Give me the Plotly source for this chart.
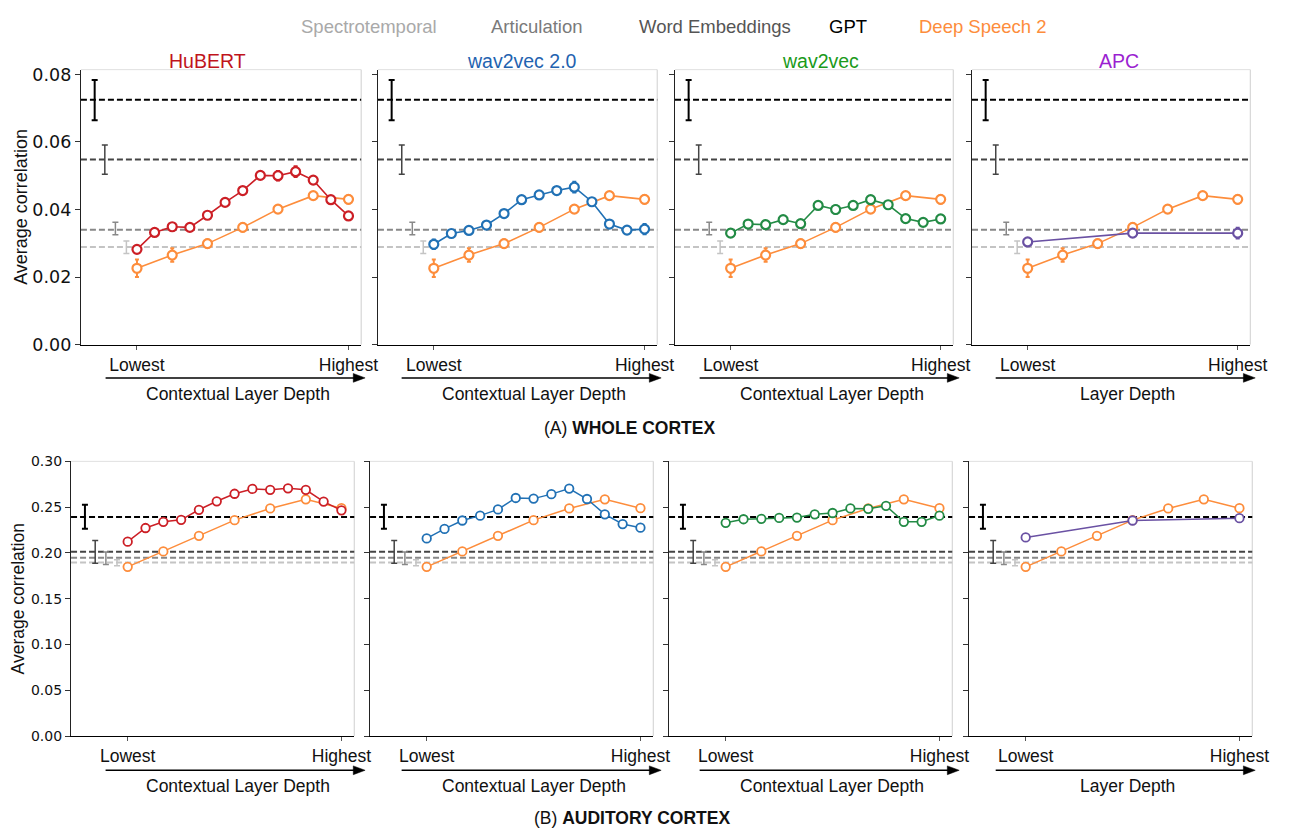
import plotly.graph_objects as go

W, H = 1289, 839

# ---------------- data ----------------
models = ["HuBERT", "wav2vec 2.0", "wav2vec", "APC"]
xaxis_titles = ["Contextual Layer Depth", "Contextual Layer Depth", "Contextual Layer Depth", "Layer Depth"]
tick_text = ["Lowest", "Highest"]

# relative layer depth (0 = lowest, 1 = highest)
depth_13 = [0, 1/12, 2/12, 3/12, 4/12, 5/12, 6/12, 7/12, 8/12, 9/12, 10/12, 11/12, 1]
depth_7 = [0, 1/6, 2/6, 3/6, 4/6, 5/6, 1]
depth_3 = [0, 0.5, 1]

# (A) whole cortex  -- baselines: GPT, Word Embeddings, Articulation, Spectrotemporal
whole_baseline = [0.0725, 0.0548, 0.0340, 0.0289]
whole_baseline_err_up = [0.0058, 0.0043, 0.0022, 0.0018]
whole_baseline_err_dn = [0.0061, 0.0044, 0.0015, 0.0019]
whole_hubert = [0.0282, 0.0332, 0.0349, 0.0347, 0.0383, 0.0421, 0.0456, 0.0501, 0.0500, 0.0512, 0.0487, 0.0429, 0.0381]
whole_hubert_err = [0.0008, 0.0008, 0.0008, 0.0008, 0.0006, 0.0006, 0.0006, 0.0006, 0.0014, 0.0016, 0.0008, 0.0006, 0.0008]
whole_w2v2 = [0.0297, 0.0329, 0.0338, 0.0354, 0.0388, 0.0429, 0.0443, 0.0456, 0.0466, 0.0423, 0.0357, 0.0339, 0.0342]
whole_w2v2_err = [0.0014, 0.0008, 0.0008, 0.0006, 0.0006, 0.0008, 0.0008, 0.0010, 0.0016, 0.0006, 0.0008, 0.0006, 0.0015]
whole_w2v = [0.0330, 0.0357, 0.0355, 0.0370, 0.0358, 0.0412, 0.0400, 0.0412, 0.0429, 0.0414, 0.0373, 0.0362, 0.0372]
whole_w2v_err = [0.0006, 0.0006, 0.0006, 0.0006, 0.0006, 0.0010, 0.0012, 0.0010, 0.0010, 0.0008, 0.0008, 0.0008, 0.0008]
whole_apc = [0.0304, 0.0330, 0.0330]
whole_apc_err = [0.0012, 0.0008, 0.0016]
whole_ds2 = [0.0226, 0.0265, 0.0299, 0.0347, 0.0401, 0.0441, 0.0430]
whole_ds2_err = [0.0026, 0.0020, 0.0012, 0.0012, 0.0010, 0.0010, 0.0012]

# (B) auditory cortex
aud_baseline = [0.2393, 0.2012, 0.1948, 0.1895]
aud_baseline_err_up = [0.0132, 0.0125, 0.0061, 0.0031]
aud_baseline_err_dn = [0.0128, 0.0124, 0.0075, 0.0036]
aud_hubert = [0.2123, 0.2272, 0.2340, 0.2361, 0.2471, 0.2564, 0.2646, 0.2699, 0.2689, 0.2706, 0.2689, 0.2561, 0.2465]
aud_w2v2 = [0.2158, 0.2262, 0.2354, 0.2407, 0.2475, 0.2600, 0.2593, 0.2642, 0.2703, 0.2589, 0.2422, 0.2315, 0.2276]
aud_w2v = [0.2329, 0.2368, 0.2372, 0.2382, 0.2386, 0.2422, 0.2436, 0.2486, 0.2482, 0.2514, 0.2340, 0.2340, 0.2407]
aud_apc = [0.2169, 0.2354, 0.2379]
aud_ds2 = [0.1848, 0.2016, 0.2187, 0.2358, 0.2486, 0.2585, 0.2489]
aud_err_small = 0.0012

# ---------------- styles ----------------
model_line_colors = ["#cc1f26", "#2171b5", "#238b45", "#6a51a3"]
title_colors = ["#c0141c", "#1f63b0", "#1a9a1a", "#9b1fd1"]
ds2_color = "#fd8d3c"
baseline_colors = ["#000000", "#444444", "#888888", "#c4c4c4"]
baseline_err_widths = [2, 1.5, 1.5, 1.5]
baseline_x = [-0.20, -0.152, -0.102, -0.05]
legend_colors = ["#a9a9a9", "#7a7a7a", "#555555", "#000000", ds2_color]
legend_labels = ["Spectrotemporal", "Articulation", "Word Embeddings", "GPT", "Deep Speech 2"]
legend_cx = [374, 544.5, 724.5, 859.5, 996.5]

SANS = "Liberation Sans, Arial, sans-serif"
DEJAVU = "DejaVu Sans, sans-serif"

top_dom_x = [(82, 366), (383, 666), (684, 966), (985, 1267)]
bot_dom_x = [(72, 359), (375, 662), (678, 965), (982, 1269)]
top_dom_y = (63, 344)
bot_dom_y = (463.3, 744)
lowest_px = [139, 439, 741, 1041]
XR = [-0.265, 1.06]


def px(x):
    return x / W


def py(y):
    return 1 - y / H


fig = go.Figure()
layout = {}
shapes = []
annotations = []

rows = [
    dict(dom_x=top_dom_x, dom_y=top_dom_y, yr=[0, 0.0814], ytv=[0, 0.02, 0.04, 0.06, 0.08],
         yfont=17.5, base=whole_baseline, bup=whole_baseline_err_up, bdn=whole_baseline_err_dn,
         models=[(whole_hubert, whole_hubert_err, depth_13), (whole_w2v2, whole_w2v2_err, depth_13),
                 (whole_w2v, whole_w2v_err, depth_13), (whole_apc, whole_apc_err, depth_3)],
         ds2=(whole_ds2, whole_ds2_err), msize=9, mlw=2.2, lw=1.6, ylab_x=21, ylab_font=18),
    dict(dom_x=bot_dom_x, dom_y=bot_dom_y, yr=[0, 0.30], ytv=[0, 0.05, 0.10, 0.15, 0.20, 0.25, 0.30],
         yfont=14, base=aud_baseline, bup=aud_baseline_err_up, bdn=aud_baseline_err_dn,
         models=[(aud_hubert, [aud_err_small] * len(aud_hubert), depth_13),
                 (aud_w2v2, [aud_err_small] * len(aud_w2v2), depth_13),
                 (aud_w2v, [aud_err_small] * len(aud_w2v), depth_13),
                 (aud_apc, [aud_err_small] * len(aud_apc), depth_3)],
         ds2=(aud_ds2, [aud_err_small] * len(aud_ds2)), msize=8.5, mlw=1.8, lw=1.5, ylab_x=18, ylab_font=17.5),
]

n = 0
for r, row in enumerate(rows):
    for p in range(4):
        n += 1
        xs = "" if n == 1 else str(n)
        xl, xr = row["dom_x"][p]
        yt, yb = row["dom_y"]
        layout["xaxis" + xs] = dict(
            domain=[px(xl), px(xr)], anchor="y" + xs, range=XR,
            tickvals=[0, 1], ticktext=tick_text, ticks="outside", ticklen=4, tickcolor="#555555",
            tickfont=dict(family=SANS, size=17.5, color="#111111"),
            showline=True, linecolor="#000000", linewidth=1.3, showgrid=False, zeroline=False,
            fixedrange=True)
        layout["yaxis" + xs] = dict(
            domain=[py(yb), py(yt)], anchor="x" + xs, range=row["yr"],
            tickvals=row["ytv"], tickformat=".2f", ticks="outside", ticklen=5, tickcolor="#333333",
            showticklabels=(p == 0), tickfont=dict(family=DEJAVU, size=row["yfont"], color="#111111"),
            showline=True, linecolor="#222222", linewidth=1.3, showgrid=False, zeroline=False,
            fixedrange=True)
        # light frame on top / right
        shapes.append(dict(type="line", xref="x" + xs + " domain", yref="y" + xs + " domain",
                           x0=0, x1=1, y0=1, y1=1, line=dict(color="#e0e0e0", width=1), layer="below"))
        shapes.append(dict(type="line", xref="x" + xs + " domain", yref="y" + xs + " domain",
                           x0=1, x1=1, y0=0, y1=1, line=dict(color="#cfcfcf", width=1), layer="below"))
        # baselines: dashed reference lines + error bars
        for b in range(4):
            shapes.append(dict(type="line", xref="x" + xs + " domain", yref="y" + xs,
                               x0=0, x1=1, y0=row["base"][b], y1=row["base"][b],
                               line=dict(color=baseline_colors[b], width=2, dash="6px,3px"),
                               layer="below"))
            fig.add_trace(go.Scatter(
                x=[baseline_x[b]], y=[row["base"][b]], mode="markers",
                marker=dict(size=1, color="rgba(0,0,0,0)"),
                error_y=dict(type="data", symmetric=False, array=[row["bup"][b]],
                             arrayminus=[row["bdn"][b]], color=baseline_colors[b],
                             thickness=baseline_err_widths[b], width=3),
                xaxis="x" + xs, yaxis="y" + xs, showlegend=False, hoverinfo="skip"))
        # Deep Speech 2
        ds_vals, ds_err = row["ds2"]
        fig.add_trace(go.Scatter(
            x=depth_7, y=ds_vals, mode="lines+markers",
            line=dict(color=ds2_color, width=row["lw"]),
            marker=dict(symbol="circle", size=row["msize"], color="white",
                        line=dict(color=ds2_color, width=row["mlw"])),
            error_y=dict(type="data", array=ds_err, color=ds2_color, thickness=2, width=2),
            xaxis="x" + xs, yaxis="y" + xs, showlegend=False, name="Deep Speech 2"))
        # model
        mv, me, mx = row["models"][p]
        fig.add_trace(go.Scatter(
            x=mx, y=mv, mode="lines+markers",
            line=dict(color=model_line_colors[p], width=row["lw"]),
            marker=dict(symbol="circle", size=row["msize"], color="white",
                        line=dict(color=model_line_colors[p], width=row["mlw"])),
            error_y=dict(type="data", array=me, color=model_line_colors[p], thickness=2, width=2),
            xaxis="x" + xs, yaxis="y" + xs, showlegend=False, name=models[p]))

        # depth arrow + axis caption
        ay = 378 if r == 0 else 779
        ty = 394.7 if r == 0 else 794.7
        a0 = lowest_px[p] - 32
        a1 = lowest_px[p] + 231
        shapes.append(dict(type="line", xref="paper", yref="paper", x0=px(a0), x1=px(a1 - 10),
                           y0=py(ay), y1=py(ay), line=dict(color="#000000", width=1.5)))
        shapes.append(dict(type="path", xref="paper", yref="paper",
                           path=f"M {px(a1 - 12)} {py(ay - 4.5)} L {px(a1)} {py(ay)} L {px(a1 - 12)} {py(ay + 4.5)} Z",
                           fillcolor="#000000", line=dict(color="#000000", width=0.5)))
        annotations.append(dict(x=px(lowest_px[p] + 102), y=py(ty), xref="paper", yref="paper",
                                text=xaxis_titles[p], showarrow=False, xanchor="center", yanchor="middle",
                                font=dict(family=SANS, size=17.5, color="#111111")))

    yt, yb = row["dom_y"]
    annotations.append(dict(x=px(row["ylab_x"]), y=py((yt + yb) / 2), xref="paper", yref="paper",
                            text="Average correlation", textangle=-90, showarrow=False,
                            xanchor="center", yanchor="middle",
                            font=dict(family=SANS, size=row["ylab_font"], color="#111111")))

# panel titles
title_cx = [210, 529, 831.5, 1134]
for p in range(4):
    annotations.append(dict(x=px(title_cx[p]), y=py(54), xref="paper", yref="paper", text=models[p],
                            showarrow=False, xanchor="center", yanchor="middle",
                            font=dict(family=SANS, size=19.5, color=title_colors[p])))

# text legend
for i, lab in enumerate(legend_labels):
    annotations.append(dict(x=px(legend_cx[i]), y=py(19), xref="paper", yref="paper", text=lab,
                            showarrow=False, xanchor="center", yanchor="middle",
                            font=dict(family=SANS, size=18.5, color=legend_colors[i])))

# section labels
annotations.append(dict(x=px(638), y=py(429), xref="paper", yref="paper",
                        text="(A) <b>WHOLE CORTEX</b>", showarrow=False, xanchor="center", yanchor="middle",
                        font=dict(family=SANS, size=17.5, color="#111111")))
annotations.append(dict(x=px(640), y=py(828), xref="paper", yref="paper",
                        text="(B) <b>AUDITORY CORTEX</b>", showarrow=False, xanchor="center", yanchor="middle",
                        font=dict(family=SANS, size=17.5, color="#111111")))

fig.update_layout(**layout)
fig.update_layout(width=W, height=H, margin=dict(l=0, r=0, t=0, b=0),
                  paper_bgcolor="white", plot_bgcolor="white",
                  shapes=shapes, annotations=annotations, showlegend=False)

fig.write_html("out.html", config={"displayModeBar": False})
